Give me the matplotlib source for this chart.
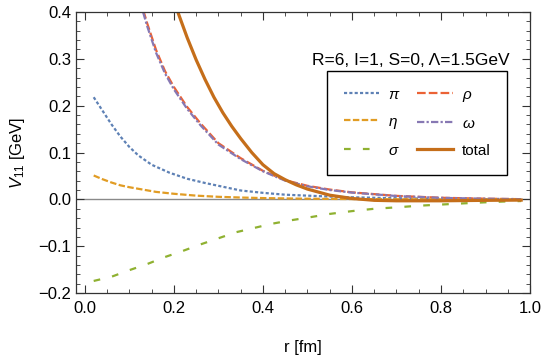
import numpy as np
import matplotlib
matplotlib.use('Agg')
import matplotlib.pyplot as plt
from matplotlib.ticker import MultipleLocator

# values
r_pi = [0.02, 0.04, 0.06, 0.08, 0.10, 0.12, 0.15, 0.19, 0.23, 0.27, 0.30, 0.35,
        0.40, 0.45, 0.50, 0.55, 0.60, 0.70, 0.80, 0.90, 0.98]
v_pi = [0.218, 0.189, 0.160, 0.134, 0.112, 0.094, 0.074, 0.057, 0.044, 0.035, 0.029, 0.019,
        0.014, 0.010, 0.008, 0.006, 0.0045, 0.0025, 0.0013, 0.0006, 0.0003]

r_eta = [0.02, 0.04, 0.06, 0.08, 0.10, 0.13, 0.16, 0.20, 0.25, 0.30, 0.35, 0.40,
         0.50, 0.60, 0.70, 0.80, 0.98]
v_eta = [0.051, 0.043, 0.036, 0.030, 0.026, 0.021, 0.016, 0.012, 0.008, 0.0055, 0.004, 0.0028,
         0.0014, 0.0007, 0.0003, 0.0001, 0.0]

r_sig = [0.02, 0.06, 0.10, 0.14, 0.18, 0.22, 0.26, 0.30, 0.34, 0.38, 0.42, 0.46,
         0.50, 0.55, 0.60, 0.65, 0.70, 0.75, 0.80, 0.85, 0.90, 0.95, 0.98]
v_sig = [-0.174, -0.165, -0.151, -0.138, -0.123, -0.110, -0.096, -0.083, -0.070, -0.061, -0.052, -0.045,
         -0.039, -0.031, -0.025, -0.020, -0.017, -0.0135, -0.011, -0.0085, -0.0062, -0.0042, -0.0035]

r_rho = [0.12, 0.14, 0.16, 0.18, 0.20, 0.23, 0.26, 0.30, 0.35, 0.40, 0.45, 0.50,
         0.55, 0.60, 0.70, 0.80, 0.90, 0.98]
v_rho = [0.44, 0.376, 0.319, 0.274, 0.240, 0.197, 0.162, 0.120, 0.088, 0.061, 0.041, 0.029,
         0.021, 0.015, 0.0075, 0.0035, 0.0015, 0.0005]
v_omg = [0.435, 0.370, 0.313, 0.269, 0.235, 0.193, 0.158, 0.117, 0.086, 0.060, 0.040, 0.028,
         0.020, 0.0145, 0.0072, 0.0033, 0.0014, 0.0005]

r_tot = [0.19, 0.21, 0.23, 0.25, 0.27, 0.29, 0.31, 0.33, 0.35, 0.375, 0.40, 0.425,
         0.45, 0.475, 0.50, 0.55, 0.60, 0.65, 0.70, 0.80, 0.90, 0.98]
v_tot = [0.46, 0.397, 0.345, 0.298, 0.256, 0.218, 0.185, 0.156, 0.130, 0.100, 0.074, 0.055,
         0.042, 0.031, 0.022, 0.009, 0.002, -0.002, -0.003, -0.003, -0.002, -0.0015]

plt.rcParams['font.family'] = ['Liberation Sans', 'DejaVu Sans']
plt.rcParams['mathtext.fontset'] = 'custom'
plt.rcParams['mathtext.rm'] = 'Liberation Sans'
plt.rcParams['mathtext.it'] = 'Liberation Sans:italic'

fig = plt.figure(figsize=(5.42, 3.61), dpi=100)
ax = fig.add_axes([0.140, 0.188, 0.838, 0.779])

ax.axhline(0, color='#8a8a8a', lw=1.0, zorder=1)

lw = 1.6
l_pi, = ax.plot(r_pi, v_pi, color='#5E81B5', lw=lw, dashes=(1.4, 1.0), label=r'$\pi$')
l_rho, = ax.plot(r_rho, v_rho, color='#EB6235', lw=lw, dashes=(3.9, 1.4), label=r'$\rho$')
l_eta, = ax.plot(r_eta, v_eta, color='#E19C24', lw=lw, dashes=(2.9, 1.1), label=r'$\eta$')
l_omg, = ax.plot(r_rho, v_omg, color='#8778B3', lw=lw, dashes=(3.3, 1.0, 1.0, 1.0), label=r'$\omega$')
l_sig, = ax.plot(r_sig, v_sig, color='#8FB131', lw=lw, dashes=(3.0, 5.5), label=r'$\sigma$')
l_tot, = ax.plot(r_tot, v_tot, color='#C56E1A', lw=2.3, label='total')

ax.set_xlim(-0.02, 1.0)
ax.set_ylim(-0.2, 0.4)
ax.xaxis.set_major_locator(MultipleLocator(0.2))
ax.xaxis.set_minor_locator(MultipleLocator(0.05))
ax.yaxis.set_major_locator(MultipleLocator(0.1))
ax.yaxis.set_minor_locator(MultipleLocator(0.02))
ax.tick_params(which='both', direction='in', top=True, right=True, labelsize=12, color='#333333')
ax.tick_params(which='major', length=5.5, width=0.8)
ax.tick_params(which='minor', length=3, width=0.6)
ax.tick_params(axis='x', which='major', pad=6)
for s in ax.spines.values():
    s.set_color('#333333')
    s.set_linewidth(0.9)

fmt = matplotlib.ticker.FuncFormatter(lambda v, p: ('%.1f' % v).replace('-', '\u2212'))
ax.xaxis.set_major_formatter(fmt)
ax.yaxis.set_major_formatter(fmt)

ax.set_xlabel('r [fm]', fontsize=12, labelpad=17)
ax.set_ylabel(r'$V_{11}$ [GeV]', fontsize=12, labelpad=8)

ax.text(0.954, 0.829, 'R=6, I=1, S=0, \u039b=1.5GeV', transform=ax.transAxes,
        ha='right', va='center', fontsize=12.5)

handles = [l_pi, l_eta, l_sig, l_rho, l_omg, l_tot]
leg = ax.legend(handles=handles, ncol=2, loc='upper left', bbox_to_anchor=(0.553, 0.790),
                fontsize=11, frameon=True, fancybox=False, edgecolor='black', framealpha=1,
                handlelength=2.3, handletextpad=0.6, columnspacing=1.1,
                labelspacing=0.85, borderpad=1.1, borderaxespad=0)
leg.get_frame().set_linewidth(1.0)

fig.savefig('out.png', dpi=100)
